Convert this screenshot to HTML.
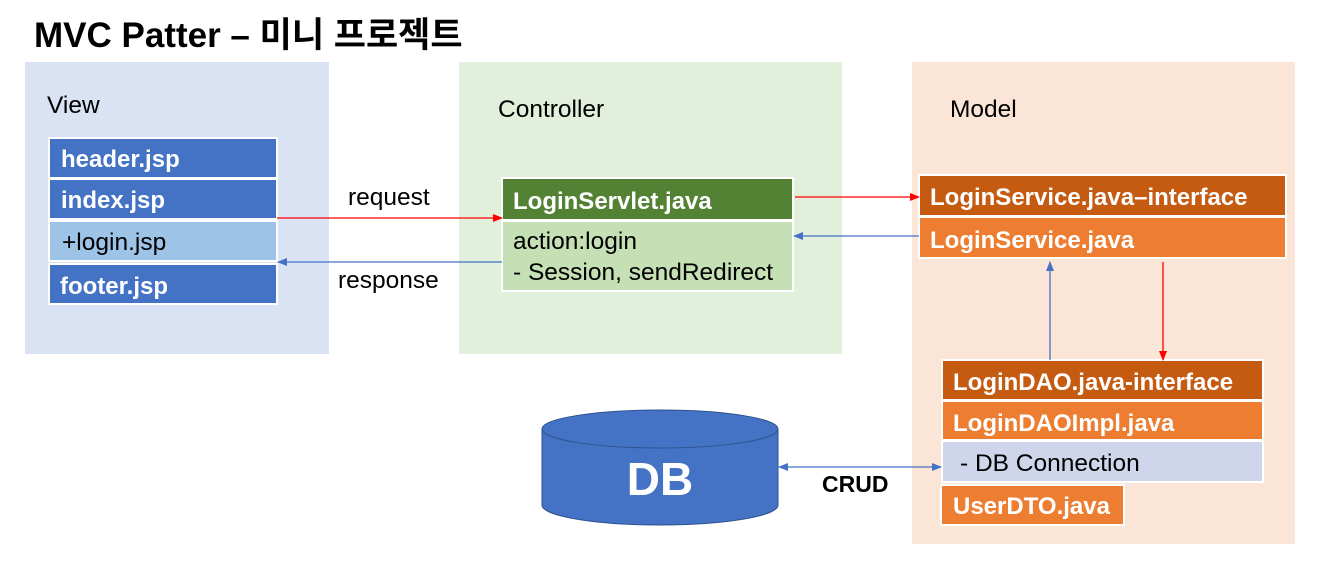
<!DOCTYPE html>
<html><head><meta charset="utf-8">
<style>
html,body{margin:0;padding:0;background:#fff;}
svg{display:block;}
text{font-family:"Liberation Sans","Noto Sans CJK KR",sans-serif;}
.b{font-weight:bold;fill:#fff;font-size:24px;}
.n{fill:#000;font-size:24.5px;}
</style></head>
<body>
<svg width="1324" height="574" viewBox="0 0 1324 574" xmlns="http://www.w3.org/2000/svg">
<defs>
<marker id="ar" markerWidth="10" markerHeight="8" refX="9" refY="4" orient="auto" markerUnits="userSpaceOnUse"><path d="M0,0 L10,4 L0,8 z" fill="#ff0000"/></marker>
<marker id="ab" markerWidth="10" markerHeight="8" refX="9" refY="4" orient="auto-start-reverse" markerUnits="userSpaceOnUse"><path d="M0,0 L10,4 L0,8 z" fill="#4472c4"/></marker>
</defs>
<text x="34" y="47" font-size="35" font-weight="bold" fill="#000">MVC Patter – 미니 프로젝트</text>
<rect x="25" y="62" width="304" height="292" fill="#dae3f3"/>
<rect x="459" y="62" width="383" height="292" fill="#e2efda"/>
<rect x="912" y="62" width="383" height="482" fill="#fbe5d6"/>
<text x="47" y="113" class="n">View</text>
<text x="498" y="117" class="n">Controller</text>
<text x="950" y="117" class="n">Model</text>
<g stroke="#fff" stroke-width="2">
<rect x="49" y="138" width="228" height="40" fill="#4472c4"/>
<rect x="49" y="179" width="228" height="40" fill="#4472c4"/>
<rect x="49" y="221" width="228" height="40" fill="#9dc3e6"/>
<rect x="49" y="264" width="228" height="40" fill="#4472c4"/>
<rect x="502" y="178" width="291" height="42" fill="#548235"/>
<rect x="502" y="221" width="291" height="70" fill="#c5e0b4"/>
<rect x="919" y="175" width="367" height="41" fill="#c55a11"/>
<rect x="919" y="217" width="367" height="41" fill="#ed7d31"/>
<rect x="942" y="360" width="321" height="40" fill="#c55a11"/>
<rect x="942" y="401" width="321" height="39" fill="#ed7d31"/>
<rect x="942" y="441" width="321" height="41" fill="#cfd5ea"/>
<rect x="941" y="485" width="183" height="40" fill="#ed7d31"/>
</g>
<text x="61" y="167" class="b">header.jsp</text>
<text x="61" y="208" class="b">index.jsp</text>
<text x="62" y="250" class="n">+login.jsp</text>
<text x="60" y="294" class="b">footer.jsp</text>
<text x="513" y="209" class="b">LoginServlet.java</text>
<text x="513" y="249" class="n">action:login</text>
<text x="513" y="280" class="n">- Session, sendRedirect</text>
<text x="930" y="205" class="b">LoginService.java–interface</text>
<text x="930" y="248" class="b">LoginService.java</text>
<text x="953" y="390" class="b">LoginDAO.java-interface</text>
<text x="953" y="431" class="b">LoginDAOImpl.java</text>
<text x="960" y="471" class="n">- DB Connection</text>
<text x="953" y="514" class="b">UserDTO.java</text>
<line x1="277" y1="218" x2="502" y2="218" stroke="#ff0000" stroke-width="1.3" marker-end="url(#ar)"/>
<text x="348" y="205" class="n">request</text>
<line x1="502" y1="262" x2="278" y2="262" stroke="#4472c4" stroke-width="1.3" marker-end="url(#ab)"/>
<text x="338" y="288" class="n">response</text>
<line x1="795" y1="197" x2="919" y2="197" stroke="#ff0000" stroke-width="1.3" marker-end="url(#ar)"/>
<line x1="919" y1="236" x2="794" y2="236" stroke="#4472c4" stroke-width="1.3" marker-end="url(#ab)"/>
<line x1="1050" y1="360" x2="1050" y2="262" stroke="#4472c4" stroke-width="1.3" marker-end="url(#ab)"/>
<line x1="1163" y1="262" x2="1163" y2="360" stroke="#ff0000" stroke-width="1.3" marker-end="url(#ar)"/>
<line x1="779" y1="467" x2="941" y2="467" stroke="#4472c4" stroke-width="1.3" marker-start="url(#ab)" marker-end="url(#ab)"/>
<text x="822" y="492" font-size="23" font-weight="bold" fill="#000">CRUD</text>
<path d="M542,429 L542,505 A118,20 0 0 0 778,505 L778,429 Z" fill="#4472c4" stroke="#2f528f" stroke-width="1"/>
<ellipse cx="660" cy="429" rx="118" ry="19" fill="#4472c4" stroke="#2f528f" stroke-width="1"/>
<text x="660" y="495" text-anchor="middle" font-size="46" font-weight="bold" fill="#fff">DB</text>
</svg>
</body></html>
